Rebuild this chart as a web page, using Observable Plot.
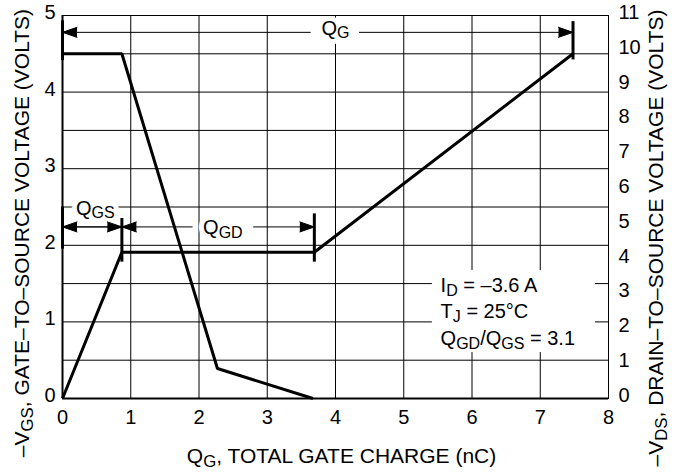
<!DOCTYPE html>
<html>
<head>
<meta charset="utf-8">
<script src="https://cdn.jsdelivr.net/npm/d3@7"></script>
<script src="https://cdn.jsdelivr.net/npm/@observablehq/plot@0.6"></script>
<style>
  html, body { margin: 0; padding: 0; background: #ffffff; }
  #chart svg { display: block; }
</style>
</head>
<body>
<div id="chart"></div>
<script>
// ---------- data ----------
const leftMax = 5;          // left axis: -VGS (volts)
const rightMax = 11;        // right axis: -VDS (volts)
const xTicks = [0, 1, 2, 3, 4, 5, 6, 7, 8];
const leftTicks = [0, 1, 2, 3, 4, 5];
const rightTicks = [0, 1, 2, 3, 4, 5, 6, 7, 8, 9, 10, 11];
const gridYValues = [0, 0.5, 1, 1.5, 2, 2.5, 3, 3.5, 4, 4.5, 5];

// gate-to-source voltage (left scale)
const vgsCharge = [0, 0.87, 3.69, 7.48];
const vgsVolts  = [0, 1.91, 1.91, 4.5];
// drain-to-source voltage (right scale)
const vdsCharge = [0, 0.87, 2.27, 3.67];
const vdsVolts  = [9.9, 9.9, 0.86, 0];

// annotation brackets (charge, left-scale volts)
const bracketBars = [
  {q: 0,    v1: 4.41, v2: 4.93},
  {q: 7.48, v1: 4.42, v2: 4.92},
  {q: 0,    v1: 1.95, v2: 2.50},
  {q: 0.87, v1: 1.78, v2: 2.35},
  {q: 3.69, v1: 1.78, v2: 2.41}
];
const bracketArrows = [
  {from: 3.63, to: 0,    v: 4.78},
  {from: 4.35, to: 7.48, v: 4.78},
  {from: 0.87, to: 0,    v: 2.24},
  {from: 0,    to: 0.87, v: 2.24},
  {from: 1.90, to: 0.87, v: 2.24},
  {from: 2.80, to: 3.69, v: 2.24}
];
const bracketLabels = [
  {q: 4.0,  v: 4.83, text: "Q_{G}"},
  {q: 0.48, v: 2.48, text: "Q_{GS}"},
  {q: 2.35, v: 2.23, text: "Q_{GD}"}
];
const conditionLines = [
  {q: 5.54, v: 1.47, text: "I_{D} = –3.6 A"},
  {q: 5.54, v: 1.13, text: "T_{J} = 25°C"},
  {q: 5.54, v: 0.78, text: "Q_{GD}/Q_{GS} = 3.1"}
];
const conditionBox = [{q1: 5.42, q2: 7.81, v1: 0.60, v2: 1.67}];

const xTitle = "Q_{G}, TOTAL GATE CHARGE (nC)";
const leftTitle = "–V_{GS}, GATE–TO–SOURCE VOLTAGE (VOLTS)";
const rightTitle = "–V_{DS}, DRAIN–TO–SOURCE VOLTAGE (VOLTS)";

// ---------- tables ----------
const vgs = vgsCharge.map((q, i) => ({q, v: vgsVolts[i]}));
const vds = vdsCharge.map((q, i) => ({q, v: vdsVolts[i]}));
const toLeft = (r) => r * leftMax / rightMax;

const FONT = "'Liberation Sans', Arial, Helvetica, sans-serif";

const chart = Plot.plot({
  width: 682,
  height: 473,
  marginLeft: 62,
  marginRight: 74,
  marginTop: 15,
  marginBottom: 75,
  style: {fontFamily: FONT, fontSize: "20px", color: "black", background: "white"},
  x: {domain: [0, 8], axis: null},
  y: {domain: [0, leftMax], axis: null},
  marks: [
    // grid
    Plot.ruleY(gridYValues, {y: d => d, stroke: "black", strokeWidth: 1}),
    Plot.ruleX(xTicks, {x: d => d, stroke: "black", strokeWidth: 1}),
    // white box behind the conditions text
    Plot.rect(conditionBox, {x1: "q1", x2: "q2", y1: "v1", y2: "v2", fill: "white"}),
    // white halos behind the bracket labels, then the labels
    Plot.text(bracketLabels, {x: "q", y: "v", text: "text", fontSize: 20, fill: "white",
      stroke: "white", strokeWidth: 10, strokeLinejoin: "round"}),
    Plot.text(bracketLabels, {x: "q", y: "v", text: "text", fontSize: 20, fill: "black"}),
    Plot.text(conditionLines, {x: "q", y: "v", text: "text", fontSize: 20, fill: "black",
      textAnchor: "start"}),
    // curves
    Plot.line(vgs, {x: "q", y: "v", stroke: "black", strokeWidth: 3,
      strokeLinejoin: "miter", strokeLinecap: "butt"}),
    Plot.line(vds, {x: "q", y: d => toLeft(d.v), stroke: "black", strokeWidth: 3,
      strokeLinejoin: "miter", strokeLinecap: "butt"}),
    // brackets
    Plot.ruleX(bracketBars, {x: "q", y1: "v1", y2: "v2", stroke: "black", strokeWidth: 3}),
    Plot.arrow(bracketArrows, {x1: "from", x2: "to", y1: "v", y2: "v", stroke: "black",
      fill: "black", strokeWidth: 1, headLength: 23, headAngle: 38}),
    // tick labels
    Plot.text(xTicks, {x: d => d, frameAnchor: "bottom", lineAnchor: "middle", dy: 19,
      text: d => String(d), fontSize: 20}),
    Plot.text(leftTicks, {y: d => d, frameAnchor: "left", textAnchor: "end", lineAnchor: "middle",
      dx: -7, dy: -3, text: d => String(d), fontSize: 20}),
    Plot.text(rightTicks, {y: d => toLeft(d), frameAnchor: "right", textAnchor: "start", lineAnchor: "middle",
      dx: 10, dy: -3, text: d => String(d), fontSize: 20}),
    // axis titles
    Plot.text([xTitle], {frameAnchor: "bottom", textAnchor: "middle", lineAnchor: "middle",
      dx: 6, dy: 58, text: d => d, fontSize: 21}),
    Plot.text([leftTitle], {frameAnchor: "left", textAnchor: "middle", lineAnchor: "middle",
      dx: -40, dy: 26, rotate: -90, text: d => d, fontSize: 21}),
    Plot.text([rightTitle], {frameAnchor: "right", textAnchor: "middle", lineAnchor: "middle",
      dx: 48, dy: 31, rotate: -90, text: d => d, fontSize: 21}),
    // axes / frame
    Plot.frame({stroke: "black", strokeWidth: 1}),
    Plot.ruleX([0], {x: d => d, stroke: "black", strokeWidth: 2}),
    Plot.ruleY([0], {y: d => d, stroke: "black", strokeWidth: 2})
  ]
});

// ---------- subscripts: turn "_{..}" into tspans ----------
const NS = "http://www.w3.org/2000/svg";
const SHIFT = 3.5;
function convert(el) {
  const s = el.textContent;
  if (!s.includes("_{")) return;
  el.textContent = "";
  const re = /_\{([^}]*)\}/g;
  let last = 0, m, shifted = false;
  const addPlain = (str) => {
    if (!str) return;
    const sp = document.createElementNS(NS, "tspan");
    sp.textContent = str;
    if (shifted) { sp.setAttribute("dy", -SHIFT); shifted = false; }
    el.appendChild(sp);
  };
  while ((m = re.exec(s))) {
    addPlain(s.slice(last, m.index));
    const sub = document.createElementNS(NS, "tspan");
    sub.setAttribute("font-size", "0.8em");
    sub.setAttribute("dy", SHIFT);
    sub.textContent = m[1];
    el.appendChild(sub);
    shifted = true;
    last = re.lastIndex;
  }
  addPlain(s.slice(last));
}
chart.querySelectorAll("text").forEach(t => {
  const spans = t.querySelectorAll("tspan");
  if (spans.length) spans.forEach(convert); else convert(t);
});

document.getElementById("chart").appendChild(chart);
</script>
</body>
</html>
